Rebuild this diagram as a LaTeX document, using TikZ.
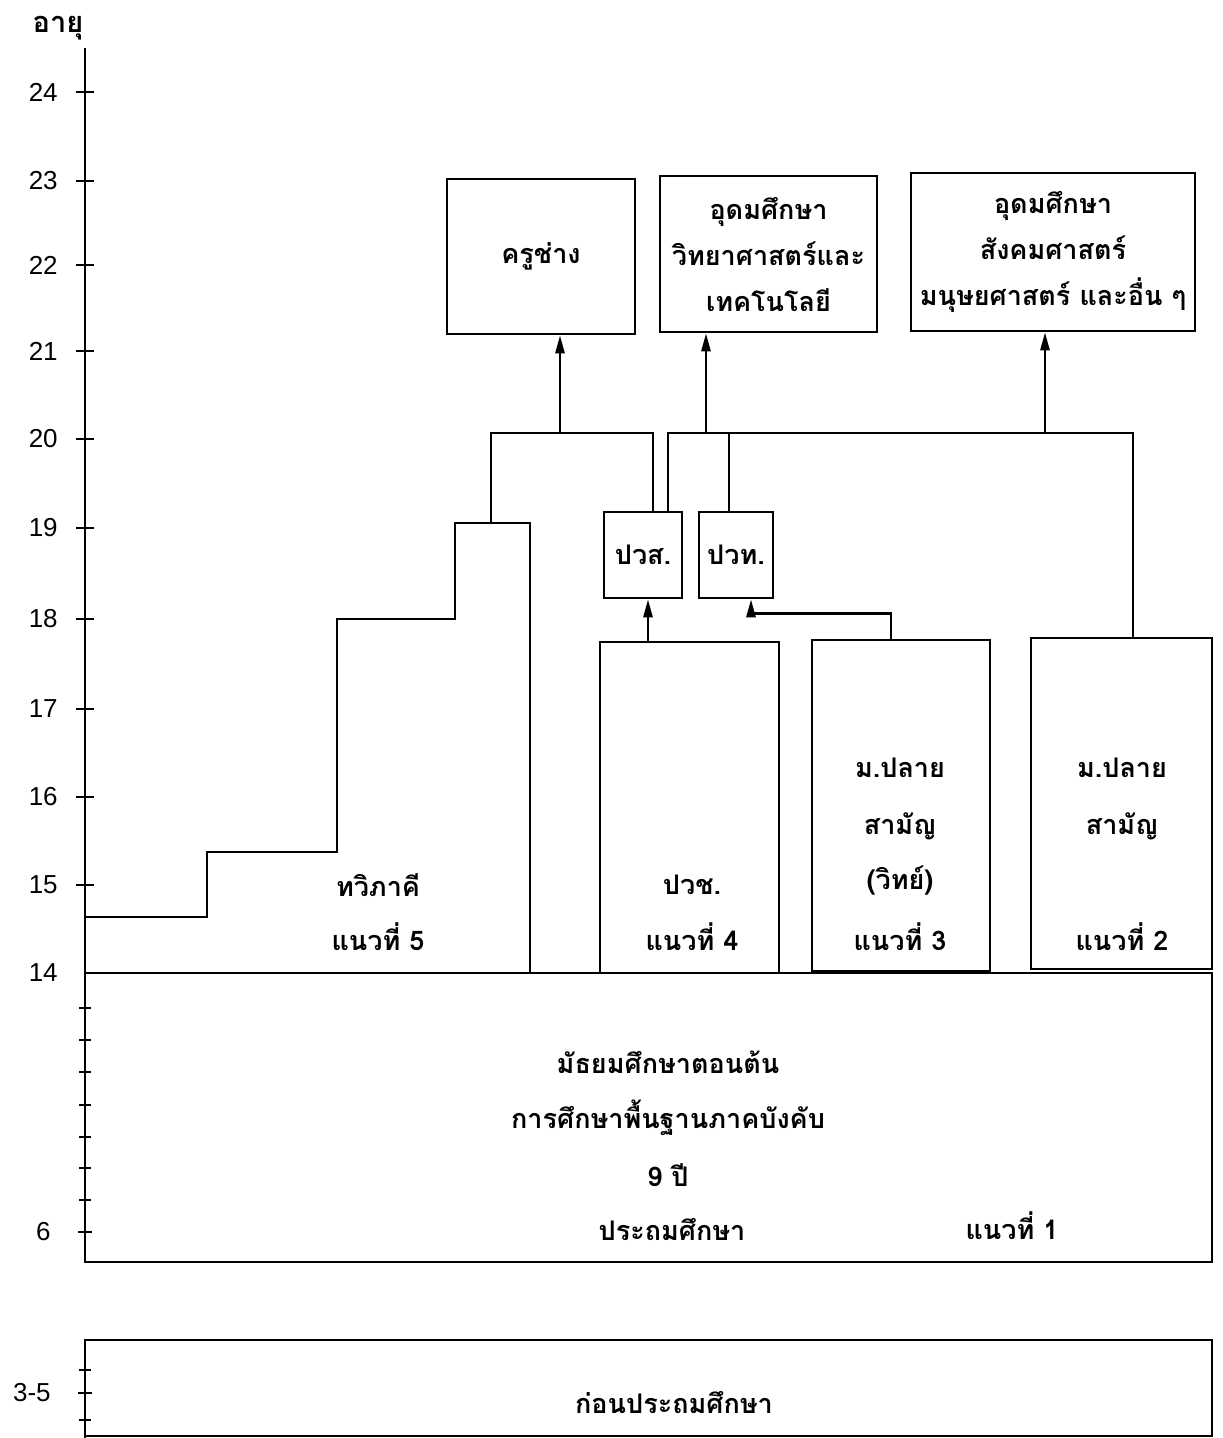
\documentclass[tikz,border=0pt]{standalone}
\usepackage{fontspec}
\setmainfont[Script=Thai]{Loma}
\newfontfamily\numfont{Liberation Sans}
\usepackage{tikz}
\usetikzlibrary{arrows.meta,calc}

\tikzset{
    box/.style={draw, line width=2.6pt, inner sep=0pt, align=center, font=\bfseries\fontsize{27}{46}\selectfont},
    lbl/.style={inner sep=0pt, align=center, font=\bfseries\fontsize{27}{46}\selectfont},
    num/.style={inner sep=0pt, anchor=east, font=\numfont\fontsize{26}{28}\selectfont}
}

\begin{document}
\begin{tikzpicture}[x=1pt, y=-1pt, >={Triangle[length=18pt, width=9pt]}, line width=2.6pt]
    \useasboundingbox (0,0) rectangle (1223,1438);

    % Age axis
    \node [lbl, font=\bfseries\fontsize{29}{32}\selectfont] (age) at (58,28) {อายุ};
    \draw (85,48) -- (85,1262);
    \foreach \a/\y in {24/92, 23/181, 22/265, 21/351, 20/439, 19/528, 18/619, 17/709, 16/797, 15/885}
        \draw (76,\y) -- (94,\y) node [num] (t\a) at (59,\y) {\a};
    \node [num] (t14) at (59,973) {14};
    \foreach \y in {1008, 1040, 1072, 1105, 1137, 1168, 1200}
        \draw (79,\y) -- (91,\y);
    \draw (78,1232) -- (92,1232) node [num] (t6) at (52,1232) {6};

    % Line 1
    \node [box, minimum width=1127pt, minimum height=289pt] (basic) at (648.5,1117.5) {};
    \node [lbl] (lower) at (668,1062) {มัธยมศึกษาตอนต้น};
    \node [lbl] (compulsory) at (668,1118) {การศึกษาพื้นฐานภาคบังคับ};
    \node [lbl] (nine) at (668,1175) {9 ปี};
    \node [lbl] (primary) at (672,1229) {ประถมศึกษา};
    \node [lbl] (line1) at (1012,1226) {แนวที่ 1};

    % Pre-primary
    \node [box, minimum width=1127pt, minimum height=96pt] (pre) at (648.5,1388) {};
    \node [lbl] (prelbl) at (674,1402) {ก่อนประถมศึกษา};
    \draw (85,1340) -- (85,1438);
    \foreach \y in {1370, 1420}
        \draw (79,\y) -- (91,\y);
    \draw (78,1393) -- (92,1393) node [num] (t35) at (52,1393) {3-5};

    % Line 5 (dual system)
    \draw (85,917) -- (207,917) -- (207,852) -- (337,852) -- (337,619) -- (455,619)
        -- (455,523) -- (530,523) -- (530,973);
    \coordinate (stair) at (491,523);
    \node [lbl] (dual) at (378,885) {ทวิภาคี};
    \node [lbl] (line5) at (378,937) {แนวที่ 5};

    % Lines 4, 3, 2
    \node [box, minimum width=179pt, minimum height=331pt] (pvc) at (689.5,807.5) {};
    \node [lbl] (pvclbl) at (692,885) {ปวช.};
    \node [lbl] (line4) at (692,937) {แนวที่ 4};
    \node [box, minimum width=178pt, minimum height=331pt] (sci3) at (901,805.5) {};
    \node [lbl] (sci3a) at (900,768) {ม.ปลาย};
    \node [lbl] (sci3b) at (900,826) {สามัญ};
    \node [lbl] (sci3c) at (900,880) {(วิทย์)};
    \node [lbl] (line3) at (900,937) {แนวที่ 3};
    \node [box, minimum width=181pt, minimum height=331pt] (gen2) at (1121.5,803.5) {};
    \node [lbl] (gen2a) at (1122,768) {ม.ปลาย};
    \node [lbl] (gen2b) at (1122,826) {สามัญ};
    \node [lbl] (line2) at (1122,937) {แนวที่ 2};

    % Diplomas
    \node [box, minimum width=78pt, minimum height=86pt] (pvs) at (643,555) {ปวส.};
    \node [box, minimum width=74pt, minimum height=86pt] (pvt) at (736,555) {ปวท.};

    % Higher education
    \node [box, minimum width=188pt, minimum height=155pt] (kru) at (541,256.5) {ครูช่าง};
    \node [box, minimum width=217pt, minimum height=156pt] (sci) at (768.5,254) {อุดมศึกษา\\วิทยาศาสตร์และ\\เทคโนโลยี};
    \node [box, minimum width=284pt, minimum height=158pt] (soc) at (1053,252) {อุดมศึกษา\\สังคมศาสตร์\\มนุษยศาสตร์ และอื่น ๆ};

    % Connectors
    \coordinate (busL) at (491,433);
    \coordinate (busR) at (1133,433);
    \coordinate (kruJ) at (560,433);
    \coordinate (sciJ) at (706,433);
    \coordinate (socJ) at (1045,433);
    \draw (stair) -- (busL) -| ([xshift=10pt]pvs.north);
    \draw ([xshift=25pt]pvs.north) |- (busR) -- (busR |- gen2.north);
    \draw ([xshift=-7pt]pvt.north) -- ([xshift=-7pt]pvt.north |- busR);
    \draw [->] (kruJ) -- (kruJ |- kru.south);
    \draw [->] (sciJ) -- (sciJ |- sci.south);
    \draw [->] (socJ) -- (socJ |- soc.south);
    \draw [->] ([xshift=-41.5pt]pvc.north) -- ([xshift=-41.5pt]pvc.north |- pvs.south);
    \draw [->] ([xshift=-10pt]sci3.north) -- ++(0,-25) -| ([xshift=15pt]pvt.south);
\end{tikzpicture}
\end{document}
